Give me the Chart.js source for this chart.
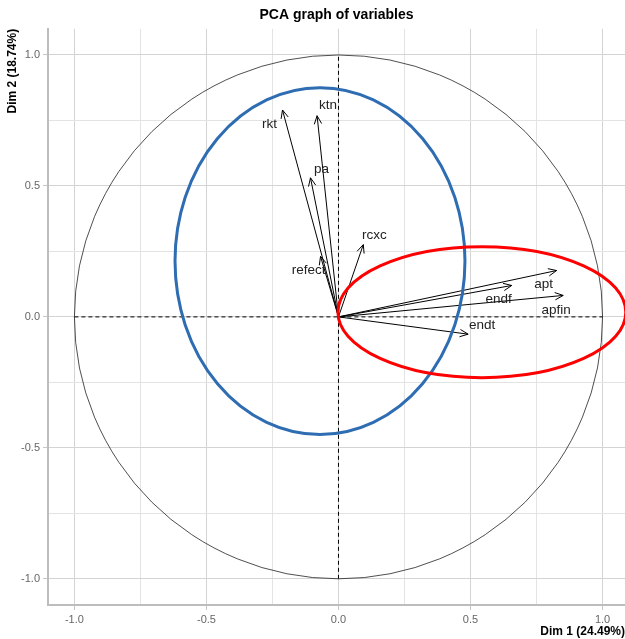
<!DOCTYPE html>
<html>
<head>
<meta charset="utf-8">
<title>PCA graph of variables</title>
<script src="https://cdn.jsdelivr.net/npm/chart.js@4/dist/chart.umd.min.js"></script>
<style>
    html, body { margin: 0; padding: 0; background: #fff; }
    #wrap { width: 625px; height: 639px; }
</style>
</head>
<body>
<div id="wrap"><canvas id="pca-chart" width="625" height="639"></canvas></div>
<script>
// variable coordinates on the first two dimensions
const variables = ['rkt', 'ktn', 'pa', 'refect', 'rcxc', 'apt', 'endf', 'apfin', 'endt'];
const dim1 = [-0.212, -0.081, -0.106, -0.068, 0.094, 0.826, 0.656, 0.851, 0.491];
const dim2 = [0.790, 0.768, 0.531, 0.231, 0.276, 0.177, 0.120, 0.082, -0.066];

const tickValues = [-1, -0.75, -0.5, -0.25, 0, 0.25, 0.5, 0.75, 1];

// group ellipses: centre x, centre y, radius x, radius y (data units)
const blueGroup = [-0.070, 0.213, 0.549, 0.662];
const redGroup = [0.543, 0.018, 0.545, 0.250];

// label offsets from arrow tip, pixels
const labelOffset = {
    rkt: [-13, 14], ktn: [11, -10], pa: [11, -9], refect: [-12, 14], rcxc: [11, -9],
    apt: [-13, 14], endf: [-13, 14], apfin: [-7, 15], endt: [14, -9]
};

const isMajor = v => Math.abs(v * 2 - Math.round(v * 2)) < 1e-6;

const arrowDatasets = variables.map((name, i) => ({
    label: name,
    data: [{x: 0, y: 0}, {x: dim1[i], y: dim2[i]}],
    showLine: true,
    borderColor: '#000',
    borderWidth: 1,
    pointRadius: 0
}));

function drawEllipse(ctx, xs, ys, e, color, width) {
    const cx = xs.getPixelForValue(e[0]);
    const cy = ys.getPixelForValue(e[1]);
    const rx = xs.getPixelForValue(e[0] + e[2]) - cx;
    const ry = cy - ys.getPixelForValue(e[1] + e[3]);
    ctx.beginPath();
    ctx.ellipse(cx, cy, rx, ry, 0, 0, Math.PI * 2);
    ctx.strokeStyle = color;
    ctx.lineWidth = width;
    ctx.stroke();
}

const pcaDecor = {
    id: 'pcaDecor',
    beforeDatasetsDraw(chart) {
        const {ctx, chartArea, scales: {x, y}} = chart;
        ctx.save();
        ctx.beginPath();
        ctx.rect(chartArea.left, chartArea.top, chartArea.right - chartArea.left, chartArea.bottom - chartArea.top);
        ctx.clip();
        drawEllipse(ctx, x, y, [0, 0, 1, 1], '#222', 0.8);
        ctx.setLineDash([4, 3]);
        ctx.strokeStyle = '#000';
        ctx.lineWidth = 1;
        ctx.beginPath();
        ctx.moveTo(x.getPixelForValue(-1), y.getPixelForValue(0));
        ctx.lineTo(x.getPixelForValue(1), y.getPixelForValue(0));
        ctx.moveTo(x.getPixelForValue(0), y.getPixelForValue(-1));
        ctx.lineTo(x.getPixelForValue(0), y.getPixelForValue(1));
        ctx.stroke();
        ctx.restore();
    },
    afterDatasetsDraw(chart) {
        const {ctx, chartArea, scales: {x, y}} = chart;
        ctx.save();
        const x0 = x.getPixelForValue(0), y0 = y.getPixelForValue(0);
        variables.forEach((name, i) => {
            const tx = x.getPixelForValue(dim1[i]);
            const ty = y.getPixelForValue(dim2[i]);
            const ang = Math.atan2(ty - y0, tx - x0);
            const len = 9, spread = 0.42;
            ctx.beginPath();
            ctx.moveTo(tx - len * Math.cos(ang - spread), ty - len * Math.sin(ang - spread));
            ctx.lineTo(tx, ty);
            ctx.lineTo(tx - len * Math.cos(ang + spread), ty - len * Math.sin(ang + spread));
            ctx.strokeStyle = '#000';
            ctx.lineWidth = 1;
            ctx.stroke();
            const off = labelOffset[name];
            ctx.fillStyle = '#222';
            ctx.font = '13.5px "Liberation Sans", Arial, sans-serif';
            ctx.textAlign = 'center';
            ctx.textBaseline = 'middle';
            ctx.fillText(name, tx + off[0], ty + off[1]);
        });
        ctx.beginPath();
        ctx.rect(chartArea.left, chartArea.top, chartArea.right - chartArea.left, chartArea.bottom - chartArea.top);
        ctx.clip();
        drawEllipse(ctx, x, y, blueGroup, '#2f6db3', 3);
        drawEllipse(ctx, x, y, redGroup, '#ff0000', 3);
        ctx.restore();
    }
};

function axisOptions(pos, min, max, title) {
    return {
        type: 'linear',
        position: pos,
        min: min,
        max: max,
        afterBuildTicks: scale => { scale.ticks = tickValues.map(v => ({value: v})); },
        afterFit: scale => {
            if (pos === 'left') scale.width = 48; else scale.height = 34;
        },
        ticks: {
            color: '#666',
            font: {family: '"Liberation Sans", Arial, sans-serif', size: 11},
            padding: 3,
            callback: v => isMajor(v) ? v.toFixed(1) : ''
        },
        grid: {
            color: c => isMajor(c.tick.value) ? '#d4d4d4' : '#e3e3e3',
            tickColor: c => isMajor(c.tick.value) ? '#c8c8c8' : 'rgba(0,0,0,0)',
            tickLength: 5,
            lineWidth: 1
        },
        border: {color: '#bdbdbd', width: 2},
        title: {
            display: true,
            text: title,
            align: 'end',
            color: '#000',
            font: {family: '"Liberation Sans", Arial, sans-serif', size: 12, weight: 'bold'},
            padding: pos === 'left' ? {top: 5, bottom: 0} : {top: 0, bottom: 0}
        }
    };
}

const pcaChart = new Chart(document.getElementById('pca-chart'), {
    type: 'scatter',
    data: {datasets: arrowDatasets},
    options: {
        responsive: false,
        animation: false,
        devicePixelRatio: 1,
        layout: {padding: 0},
        plugins: {
            legend: {display: false},
            tooltip: {enabled: false},
            title: {
                display: true,
                text: 'PCA graph of variables',
                fullSize: false,
                color: '#000',
                font: {family: '"Liberation Sans", Arial, sans-serif', size: 14, weight: 'bold'},
                padding: {top: 7, bottom: 5}
            }
        },
        scales: {
            x: axisOptions('bottom', -1.1, 1.085, 'Dim 1 (24.49%)'),
            y: axisOptions('left', -1.1, 1.1, 'Dim 2 (18.74%)')
        }
    },
    plugins: [pcaDecor]
});
</script>
</body>
</html>
